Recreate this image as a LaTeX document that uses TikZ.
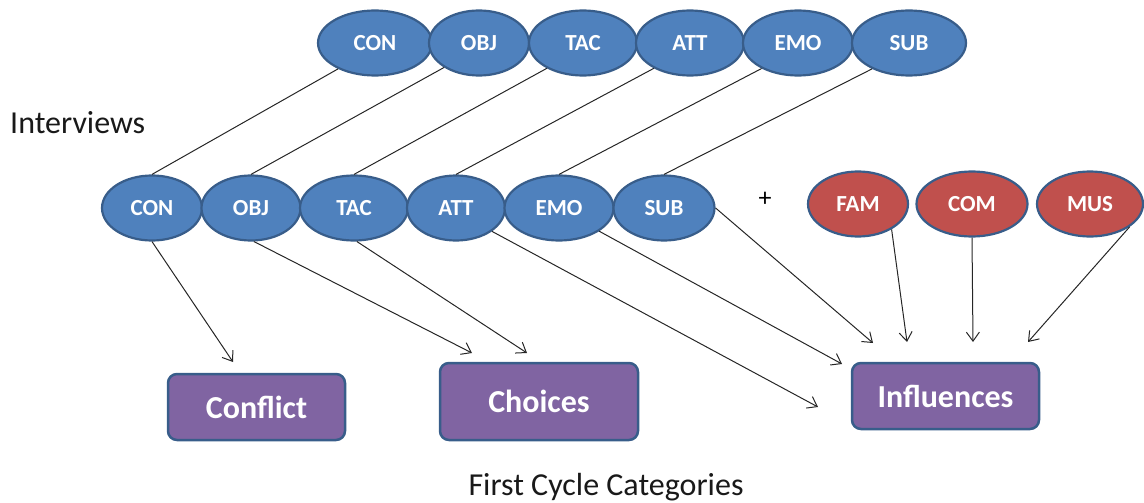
\documentclass[tikz,border=0pt]{standalone}
\usepackage{fontspec}
\setmainfont{Carlito}
\usetikzlibrary{arrows.meta,shapes.geometric}
\definecolor{codeblue}{HTML}{4F81BD}
\definecolor{rimblue}{HTML}{385D8A}
\definecolor{infred}{HTML}{C0504D}
\definecolor{catpurple}{HTML}{8064A2}

\begin{document}
\begin{tikzpicture}[x=1pt,y=-1pt,
  code/.style={ellipse, draw=rimblue, line width=2.2pt, fill=codeblue, text=white,
    font=\fontsize{23}{27}\selectfont\bfseries, inner sep=0pt, minimum height=65pt},
  influence/.style={code, fill=infred},
  category/.style={rectangle, rounded corners=9pt, draw=rimblue, line width=2.5pt,
    fill=catpurple, text=white, font=\fontsize{32}{38}\selectfont\bfseries, inner sep=0pt},
  link/.style={draw=black!85, line width=1pt},
  feed/.style={link, -{Straight Barb[length=9pt,width=13pt,line width=1pt]}},
  caption/.style={font=\fontsize{32}{38}\selectfont, text=black!90, inner sep=0pt},
]
\useasboundingbox (0,0) rectangle (1144,503);

% interview codes, upper row
\node[code, minimum width=114pt] (tCON) at (375,43) {CON};
\node[code, minimum width=100pt] (tOBJ) at (479,43) {OBJ};
\node[code, minimum width=108pt] (tTAC) at (583,43) {TAC};
\node[code, minimum width=108pt] (tATT) at (690,43) {ATT};
\node[code, minimum width=110pt] (tEMO) at (798,43) {EMO};
\node[code, minimum width=114pt] (tSUB) at (909,43) {SUB};

\node[caption, anchor=base west] (interviews) at (10,133) {Interviews};

% interview codes, lower row
\node[code, minimum width=100pt] (bCON) at (152,208) {CON};
\node[code, minimum width=99pt] (bOBJ) at (251,208) {OBJ};
\node[code, minimum width=108pt] (bTAC) at (354,208) {TAC};
\node[code, minimum width=98pt] (bATT) at (456,208) {ATT};
\node[code, minimum width=109pt] (bEMO) at (559,208) {EMO};
\node[code, minimum width=101pt] (bSUB) at (664,208) {SUB};

\node[font=\fontsize{26}{30}\selectfont, inner sep=0pt] (plus) at (765,199) {+};

% external influences
\node[influence, minimum width=100pt] (FAM) at (858,204) {FAM};
\node[influence, minimum width=111pt] (COM) at (972,204) {COM};
\node[influence, minimum width=106pt] (MUS) at (1090,204) {MUS};

% first cycle categories
\node[category, minimum width=177pt, minimum height=66pt] (conflict) at (256.5,407) {Conflict};
\node[category, minimum width=198pt, minimum height=77pt] (choices) at (539,401.5) {Choices};
\node[category, minimum width=187pt, minimum height=66pt] (influences) at (945.5,396) {Influences};

\node[caption, anchor=base] (cycle) at (606,495) {First Cycle Categories};

% links between the two rows of codes
\foreach \c in {CON,OBJ,TAC,ATT,EMO,SUB}
  \draw[link] (t\c.215) -- (b\c.north);

% arrow ends in front of the categories
\coordinate (tipConflict) at (233,362);
\coordinate (tipChoicesA) at (472,353);
\coordinate (tipChoicesB) at (527,353);
\coordinate (tipInfA) at (818,407);
\coordinate (tipInfB) at (842,364);
\coordinate (tipInfC) at (873,343);
\coordinate (tipInfD) at (907,342);
\coordinate (tipInfE) at (973,342);
\coordinate (tipInfF) at (1028,342);

\draw[feed] (bCON.south) -- (tipConflict);
\draw[feed] (bOBJ.275) -- (tipChoicesA);
\draw[feed] (bTAC.275) -- (tipChoicesB);
\draw[feed] (bATT.327) -- (tipInfA);
\draw[feed] (bEMO.330) -- (tipInfB);
\draw[feed] (bSUB.east) -- (tipInfC);
\draw[feed] (FAM.323) -- (tipInfD);
\draw[feed] (COM.south) -- (tipInfE);
\draw[feed] (MUS.330) -- (tipInfF);
\end{tikzpicture}
\end{document}
